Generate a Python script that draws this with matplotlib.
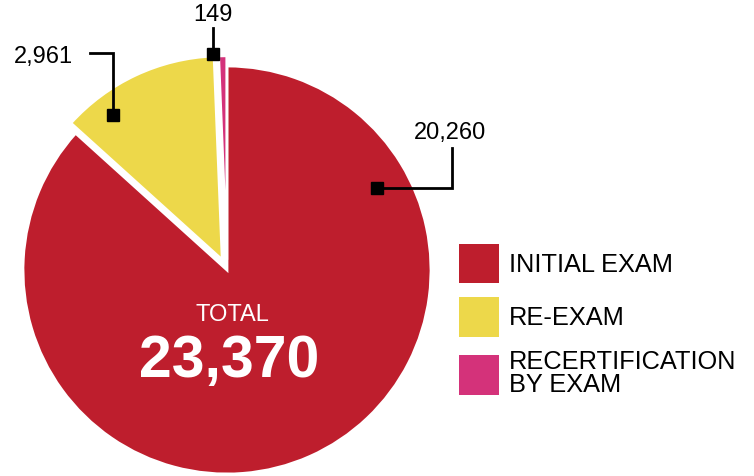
import matplotlib.pyplot as plt

# exam counts by type
labels = ['INITIAL EXAM', 'RE-EXAM', 'RECERTIFICATION\nBY EXAM']
counts = [20260, 2961, 149]
count_text = ['20,260', '2,961', '149']
colors = ['#BE1E2D', '#EDD84A', '#D4327A']
total = sum(counts)

plt.rcParams['font.family'] = ['Liberation Sans', 'DejaVu Sans']

W, H = 754, 476
fig = plt.figure(figsize=(W / 100, H / 100), dpi=100)
ax = fig.add_axes([0, 0, 1, 1])

cx, cy, r = 227, H - 270, 204
# pie's explode is in data units, so scale by the radius
wedges, _ = ax.pie(counts, colors=colors, startangle=90, counterclock=False,
                   center=(cx, cy), radius=r, explode=[0, 0.055 * r, 0.05 * r],
                   wedgeprops=dict(linewidth=2, edgecolor='white'))
ax.set_xlim(0, W)
ax.set_ylim(0, H)
ax.set_aspect('equal')
ax.axis('off')

# total in the middle of the big slice
ax.text(232, H - 315, 'TOTAL', color='white', fontsize=17, ha='center', va='center')
ax.text(229, H - 362, f'{total:,}', color='white', fontsize=42.5, fontweight='bold',
        ha='center', va='center')

# callouts: text position, elbow path, marker position (pixels from top)
callouts = [
    ((450, 133), [(452, 148), (452, 188), (377, 188)]),
    ((43, 57), [(90, 53), (113, 53), (113, 115)]),
    ((213, 15), [(213, 28), (213, 54)]),
]
for txt, ((tx, ty), path) in zip(count_text, callouts):
    ax.text(tx, H - ty, txt, fontsize=17, ha='center', va='center', color='black')
    xs = [p[0] for p in path]
    ys = [H - p[1] for p in path]
    ax.plot(xs, ys, color='black', lw=2, solid_joinstyle='miter')
    ax.plot(xs[-1], ys[-1], marker='s', ms=8, color='black')

leg = ax.legend(wedges, labels, loc='upper left', bbox_to_anchor=(459 / W, 1 - 244 / H),
                bbox_transform=fig.transFigure, frameon=False, fontsize=18.3,
                handlelength=1.58, handleheight=2.0, handletextpad=0.4,
                labelspacing=0.55, borderpad=0, borderaxespad=0)
for t in leg.get_texts():
    t.set_linespacing(0.9)
for h in leg.legend_handles:
    h.set_linewidth(0)

fig.savefig('out.png', dpi=100)
